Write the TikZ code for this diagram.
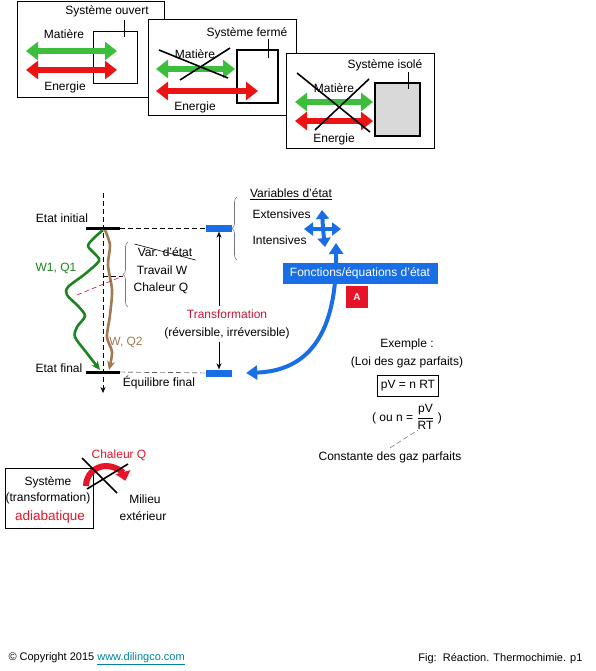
\documentclass[tikz,border=0pt]{standalone}
\usepackage{fontspec}
\setmainfont{Liberation Sans}
\usetikzlibrary{arrows.meta, decorations.pathreplacing}
\definecolor{matgreen}{RGB}{60,190,60}
\definecolor{enred}{RGB}{235,20,20}
\definecolor{wavegreen}{RGB}{30,130,30}
\definecolor{wavebrown}{RGB}{160,122,85}
\definecolor{stateblue}{RGB}{25,110,230}
\definecolor{trred}{RGB}{200,20,60}
\definecolor{boxred}{RGB}{230,20,40}
\definecolor{bracegray}{RGB}{120,120,120}
\definecolor{linkteal}{RGB}{0,130,150}
\tikzset{
    panel/.style={draw, fill=white, line width=0.8pt, anchor=north west, inner sep=0pt},
    fat/.style={line width=6pt, {Triangle[length=12pt,width=18pt]}-{Triangle[length=12pt,width=18pt]}},
    cross/.style={line width=1.6pt},
    leader/.style={line width=0.6pt},
    bar/.style={fill=black, minimum width=34pt, minimum height=3pt, inner sep=0pt},
    bluebar/.style={fill=stateblue, minimum width=26pt, minimum height=7pt, inner sep=0pt},
    brc/.style={decorate, decoration={brace, amplitude=5pt}, draw=bracegray, line width=0.6pt},
    arm/.style={stateblue, line width=4pt, -{Triangle[length=9pt,width=13pt]}},
    wave/.style={line width=2.6pt, -{Stealth[length=9pt,width=8pt]}},
    dsh/.style={dash pattern=on 5pt off 3pt}
}

\begin{document}
\begin{tikzpicture}[x=1pt, y=-1pt, font=\fontsize{12}{14}\selectfont]
    \useasboundingbox (0,0) rectangle (595,671);
    % systeme ouvert
    \node [panel, minimum width=147pt, minimum height=96pt] (open) at (17,1) {};
    \node [draw, line width=0.8pt, anchor=north west, minimum width=44pt, minimum height=52pt] (openbox) at (93,31) {};
    \node (openlbl) at (107,11) {Système ouvert};
    \draw [leader] (124,20) -- (124,37);
    \node (openmat) at (64,34) {Matière};
    \draw [fat, matgreen] (26,51) -- (117,51);
    \draw [fat, enred] (26,70) -- (117,70);
    \node (openen) at (65,87) {Energie};
    % systeme ferme
    \node [panel, minimum width=148pt, minimum height=96pt] (closed) at (148,19) {};
    \node [draw, line width=2.4pt, anchor=north west, minimum width=41pt, minimum height=53pt] (closedbox) at (236,49) {};
    \node (closedlbl) at (247,33) {Système fermé};
    \draw [leader] (268,39) -- (268,58);
    \node (closedmat) at (195,54) {Matière};
    \draw [fat, matgreen] (156,69) -- (235,69);
    \draw [cross] (159,50) -- (228,78);
    \draw [cross] (180,80) -- (230,48);
    \draw [fat, enred] (156,91) -- (258,91);
    \node (closeden) at (195,107) {Energie};
    % systeme isole
    \node [panel, minimum width=148pt, minimum height=95pt] (iso) at (286,53) {};
    \node [draw, fill=black!15, line width=2.4pt, anchor=north west, minimum width=45pt, minimum height=53pt] (isobox) at (374,82) {};
    \node (isolbl) at (385,65) {Système isolé};
    \draw [leader] (408,72) -- (408,89);
    \node (isomat) at (334,88) {Matière};
    \draw [fat, matgreen] (295,102) -- (373,102);
    \draw [fat, enred] (295,121) -- (373,121);
    \draw [cross] (297,73) -- (370,132);
    \draw [cross] (315,130) -- (369,79);
    \node (isoen) at (334,139) {Energie};

    % transformation
    \draw [dsh, -{Stealth[length=6pt,width=5pt]}] (103,193) -- (103,393);
    \node (inilbl) at (62,218) {Etat initial};
    \node (finlbl) at (59,368) {Etat final};
    \node [bar] (ini) at (103,228) {};
    \node [bar] (fin) at (103,372) {};
    \node [bluebar] (bini) at (219,228) {};
    \node [bluebar] (bfin) at (219,373) {};
    \draw [dsh] (ini.east) -- (bini.west);
    \draw [dsh] (fin.east) -- (bfin.west);
    \node (eqf) at (159,383) {Équilibre final};
    \draw [wave, wavegreen] plot [smooth] coordinates {(103,230) (94,238) (88,246) (95,254) (99,261) (85,274) (68,287) (67,295) (78,306) (85,316) (77,327) (75,337) (86,352) (100,370)};
    \draw [wave, wavebrown] plot [smooth] coordinates {(105,230) (110,245) (108,265) (112,290) (110,315) (107,337) (112,352) (109,370)};
    \node [text=wavegreen] (w1) at (56,268) {W1, Q1};
    \node [text=wavebrown] (w2) at (126,342) {W, Q2};
    \draw [brc] (128,307) -- (128,242);
    \coordinate (brtip) at (123,276);
    \draw [dsh, leader] (103,276) -- (brtip);
    \draw [dsh, leader, trred] (77,295) -- (brtip);
    \node (var) at (165,252) {Var. d'état};
    \draw [leader] (var.north west) -- (var.south east);
    \node (trav) at (162,270) {Travail W};
    \node (chal) at (161,288) {Chaleur Q};
    \node [align=center, font=\fontsize{12}{18}\selectfont] (tr) at (227,324) {\textcolor{trred}{Transformation}\\(réversible, irréversible)};
    \draw [-{Stealth[length=6pt,width=5pt]}] (tr.north -| bini) -- (bini.south);
    \draw [-{Stealth[length=6pt,width=5pt]}] (tr.south -| bfin) -- (bfin.north);

    % variables d'etat
    \draw [brc] (237,260) -- (237,197);
    \node (vars) at (291,194) {\underline{Variables d'état}};
    \node [anchor=west] (ext) at (249,214) {Extensives};
    \node [anchor=west] (int) at (249,240) {Intensives};
    \coordinate (quad) at (323,229);
    \draw [arm] (quad) -- ++(-1,-19);
    \draw [arm] (quad) -- ++(2,18);
    \draw [arm] (quad) -- ++(-19,0);
    \draw [arm] (quad) -- ++(18,0);
    \coordinate (cv) at (336,243);
    \draw [stateblue, line width=4pt, {Triangle[length=11pt,width=14pt]}-{Triangle[length=11pt,width=14pt]}] ([xshift=14pt]bfin.east) .. controls (300,371) and (337,345) .. (cv);
    \node [fill=stateblue, text=white, minimum width=155pt, minimum height=21pt, inner sep=0pt] (fn) at (360,273) {Fonctions/équations d'état};
    \node [fill=boxred, text=white, minimum size=22pt, inner sep=0pt, font=\fontsize{10}{12}\selectfont\bfseries] (A) at (357,297) {A};

    % exemple
    \node (ex) at (407,344) {Exemple :};
    \node (loi) at (407,362) {(Loi des gaz parfaits)};
    \node [draw, line width=0.8pt, minimum width=61pt, minimum height=21pt, inner sep=0pt] (pv) at (408,386) {pV = n RT};
    \node (ou) at (407,417) {( ou n = $\displaystyle\frac{\mbox{pV}}{\mbox{RT}}$ )};
    \node (cst) at (390,457) {Constante des gaz parfaits};
    \draw [dsh, leader, bracegray] (cst.north) -- (418,430);

    % adiabatique
    \node [draw, line width=0.8pt, minimum width=88pt, minimum height=60pt, inner sep=0pt] (sys) at (49,498) {};
    \node (sys1) at (48,482) {Système};
    \node (sys2) at (48,498) {(transformation)};
    \node [text=boxred, font=\fontsize{13.5}{16}\selectfont] (sys3) at (50,517) {adiabatique};
    \node [text=boxred] (chq) at (119,455) {Chaleur Q};
    \draw [boxred, line width=6pt, -{Triangle[length=9pt,width=15pt]}] (86,486) arc [start angle=180, end angle=345, radius=20];
    \draw [cross] (82,458) -- (117,493);
    \draw [cross] (87,489) -- (128,464);
    \node (mil1) at (145,499) {Milieu};
    \node (mil2) at (143,516) {extérieur};

    % bas de page
    \node [anchor=west, font=\fontsize{11}{13}\selectfont] (copy) at (5,659) {© Copyright 2015 \textcolor{linkteal}{\underline{www.dilingco.com}}};
    \node [anchor=east, font=\fontsize{11}{13}\selectfont] (fig) at (586,659) {Fig:\ \ Réaction. Thermochimie. p1};
\end{tikzpicture}
\end{document}
